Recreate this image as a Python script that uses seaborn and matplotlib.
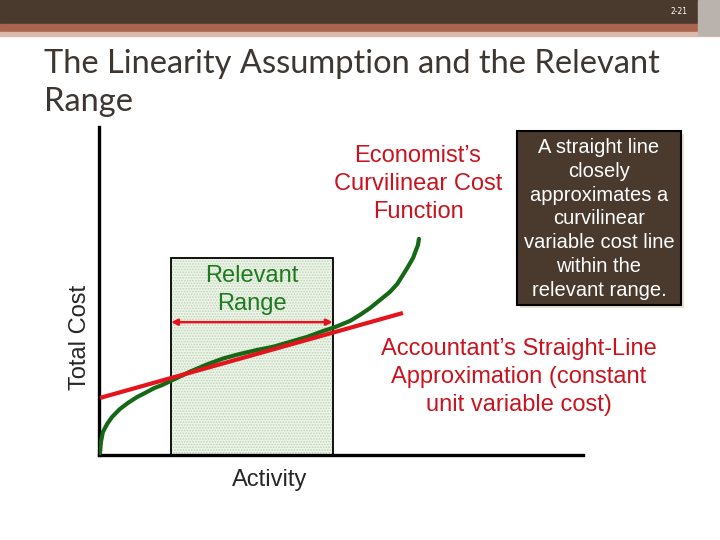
import matplotlib
matplotlib.use("Agg")
import numpy as np
import pandas as pd
import matplotlib.pyplot as plt
from matplotlib.patches import Rectangle
import seaborn as sns

# ------------------------------------------------------------------
# Data (activity / total cost, both on a 0-100 scale)
# ------------------------------------------------------------------
curve_activity = [0.2, 0.4, 0.8, 1.7, 2.7, 4.3, 6.0, 7.9, 9.5, 11.4, 13.0, 15.7,
                  18.8, 22.3, 25.6, 29.1, 32.6, 36.0, 39.5, 43.0, 46.3, 48.8,
                  51.9, 53.9, 56.0, 58.1, 60.1, 61.6, 62.8, 63.8, 64.9, 65.5,
                  65.9, 66.1]
curve_cost = [0.6, 4.0, 7.0, 9.5, 11.6, 14.0, 15.9, 17.7, 18.9, 20.4, 21.3, 23.2,
              25.4, 27.6, 29.4, 30.8, 32.0, 33.0, 34.5, 36.0, 37.8, 39.0,
              40.9, 42.7, 44.8, 47.3, 49.7, 52.1, 54.9, 57.3, 60.1, 62.5,
              64.0, 65.9]

line_activity = [0.2, 62.8]
line_cost = [17.4, 43.3]

range_start = 14.9
range_end = 48.3
range_height = 60.1
arrow_cost = 40.5

title = "The Linearity Assumption and the Relevant\nRange"
slide_no = "2-21"

RED = "#e3141c"
GREEN = "#156915"
TEXT_RED = "#c9141f"
TEXT_GREEN = "#1f7a1f"
BROWN = "#4a3a2e"

sns.set_style("white")
plt.rcParams["font.family"] = ["Liberation Sans", "DejaVu Sans"]
plt.rcParams["hatch.linewidth"] = 0.8

fig = plt.figure(figsize=(7.2, 5.4), dpi=100)

# slide header bars
fig.patches.append(Rectangle((0, 1 - 24 / 540), 1, 24 / 540, transform=fig.transFigure,
                             color=BROWN, zorder=0))
fig.patches.append(Rectangle((0, 1 - 32 / 540), 1, 8 / 540, transform=fig.transFigure,
                             color="#a8644f", zorder=0))
fig.patches.append(Rectangle((0, 1 - 35.5 / 540), 1, 3.5 / 540, transform=fig.transFigure,
                             color="#dcb9ad", zorder=0))
fig.patches.append(Rectangle((698 / 720, 1 - 35 / 540), 22 / 720, 35 / 540,
                             transform=fig.transFigure, color="#b9b2ad", zorder=1))
fig.text(679 / 720, 1 - 11 / 540, slide_no, color="white", fontsize=5.5,
         ha="center", va="center", family=["DejaVu Sans"])

fig.text(44 / 720, 1 - 49 / 540, title, color="#3d3631", fontsize=23.5,
         family=["Lato", "DejaVu Sans"], ha="left", va="top", linespacing=1.33)

# ------------------------------------------------------------------
# Chart
# ------------------------------------------------------------------
ax = fig.add_axes([99 / 720, 1 - 455 / 540, 484 / 720, 328 / 540])
ax.set_xlim(0, 100)
ax.set_ylim(0, 100)
ax.set_xticks([])
ax.set_yticks([])
for side in ["top", "right"]:
    ax.spines[side].set_visible(False)
for side in ["left", "bottom"]:
    ax.spines[side].set_linewidth(2.4)
    ax.spines[side].set_color("black")
    ax.spines[side].set_capstyle("projecting")

# relevant range box
ax.add_patch(Rectangle((range_start, 0), range_end - range_start, range_height,
                       facecolor="#eef4ea", edgecolor="#bcd6b4", hatch="......",
                       linewidth=0, zorder=1))
ax.add_patch(Rectangle((range_start, 0), range_end - range_start, range_height,
                       fill=False, edgecolor="black", linewidth=1.3, zorder=2))

curve = pd.DataFrame({"activity": curve_activity, "cost": curve_cost})
line = pd.DataFrame({"activity": line_activity, "cost": line_cost})
sns.lineplot(data=curve, x="activity", y="cost", ax=ax, color=GREEN, linewidth=3.0,
             sort=False, zorder=3, solid_capstyle="round", solid_joinstyle="round")
sns.lineplot(data=line, x="activity", y="cost", ax=ax, color=RED, linewidth=3.0,
             sort=False, zorder=4, solid_capstyle="butt")

ax.annotate("", xy=(range_end, arrow_cost), xytext=(range_start, arrow_cost),
            arrowprops=dict(arrowstyle="<|-|>", color=RED, lw=1.8, mutation_scale=9,
                            shrinkA=0, shrinkB=0), zorder=5)
ax.set_xlabel("")
ax.set_ylabel("")

# labels
fig.text(270 / 720, 1 - 480 / 540, "Activity", fontsize=17, ha="center", va="center")
fig.text(80 / 720, 1 - 337 / 540, "Total Cost", fontsize=17, ha="center", va="center",
         rotation=90)
fig.text(252 / 720, 1 - 290 / 540, "Relevant\nRange", fontsize=17, ha="center",
         va="center", color=TEXT_GREEN, linespacing=1.36)
fig.text(418 / 720, 1 - 184 / 540, "Economist\u2019s\nCurvilinear Cost\nFunction",
         fontsize=17, ha="center", va="center", color=TEXT_RED, linespacing=1.36)
fig.text(519 / 720, 1 - 377 / 540,
         "Accountant\u2019s Straight-Line\nApproximation (constant\nunit variable cost)",
         fontsize=17, ha="center", va="center", color=TEXT_RED, linespacing=1.36)

# callout box
fig.patches.append(Rectangle((520 / 720, 1 - 308 / 540), 164 / 720, 174 / 540,
                             transform=fig.transFigure, facecolor="#e9e1cf",
                             edgecolor="none", zorder=1))
fig.patches.append(Rectangle((517 / 720, 1 - 305 / 540), 164 / 720, 174 / 540,
                             transform=fig.transFigure, facecolor=BROWN,
                             edgecolor="black", linewidth=1.5, zorder=2))
fig.text(599 / 720, 1 - 219 / 540,
         "A straight line\nclosely\napproximates a\ncurvilinear\nvariable cost line\n"
         "within the\nrelevant range.",
         fontsize=14.5, ha="center", va="center", color="white", linespacing=1.33,
         zorder=3)

fig.savefig("out.png", dpi=100)
